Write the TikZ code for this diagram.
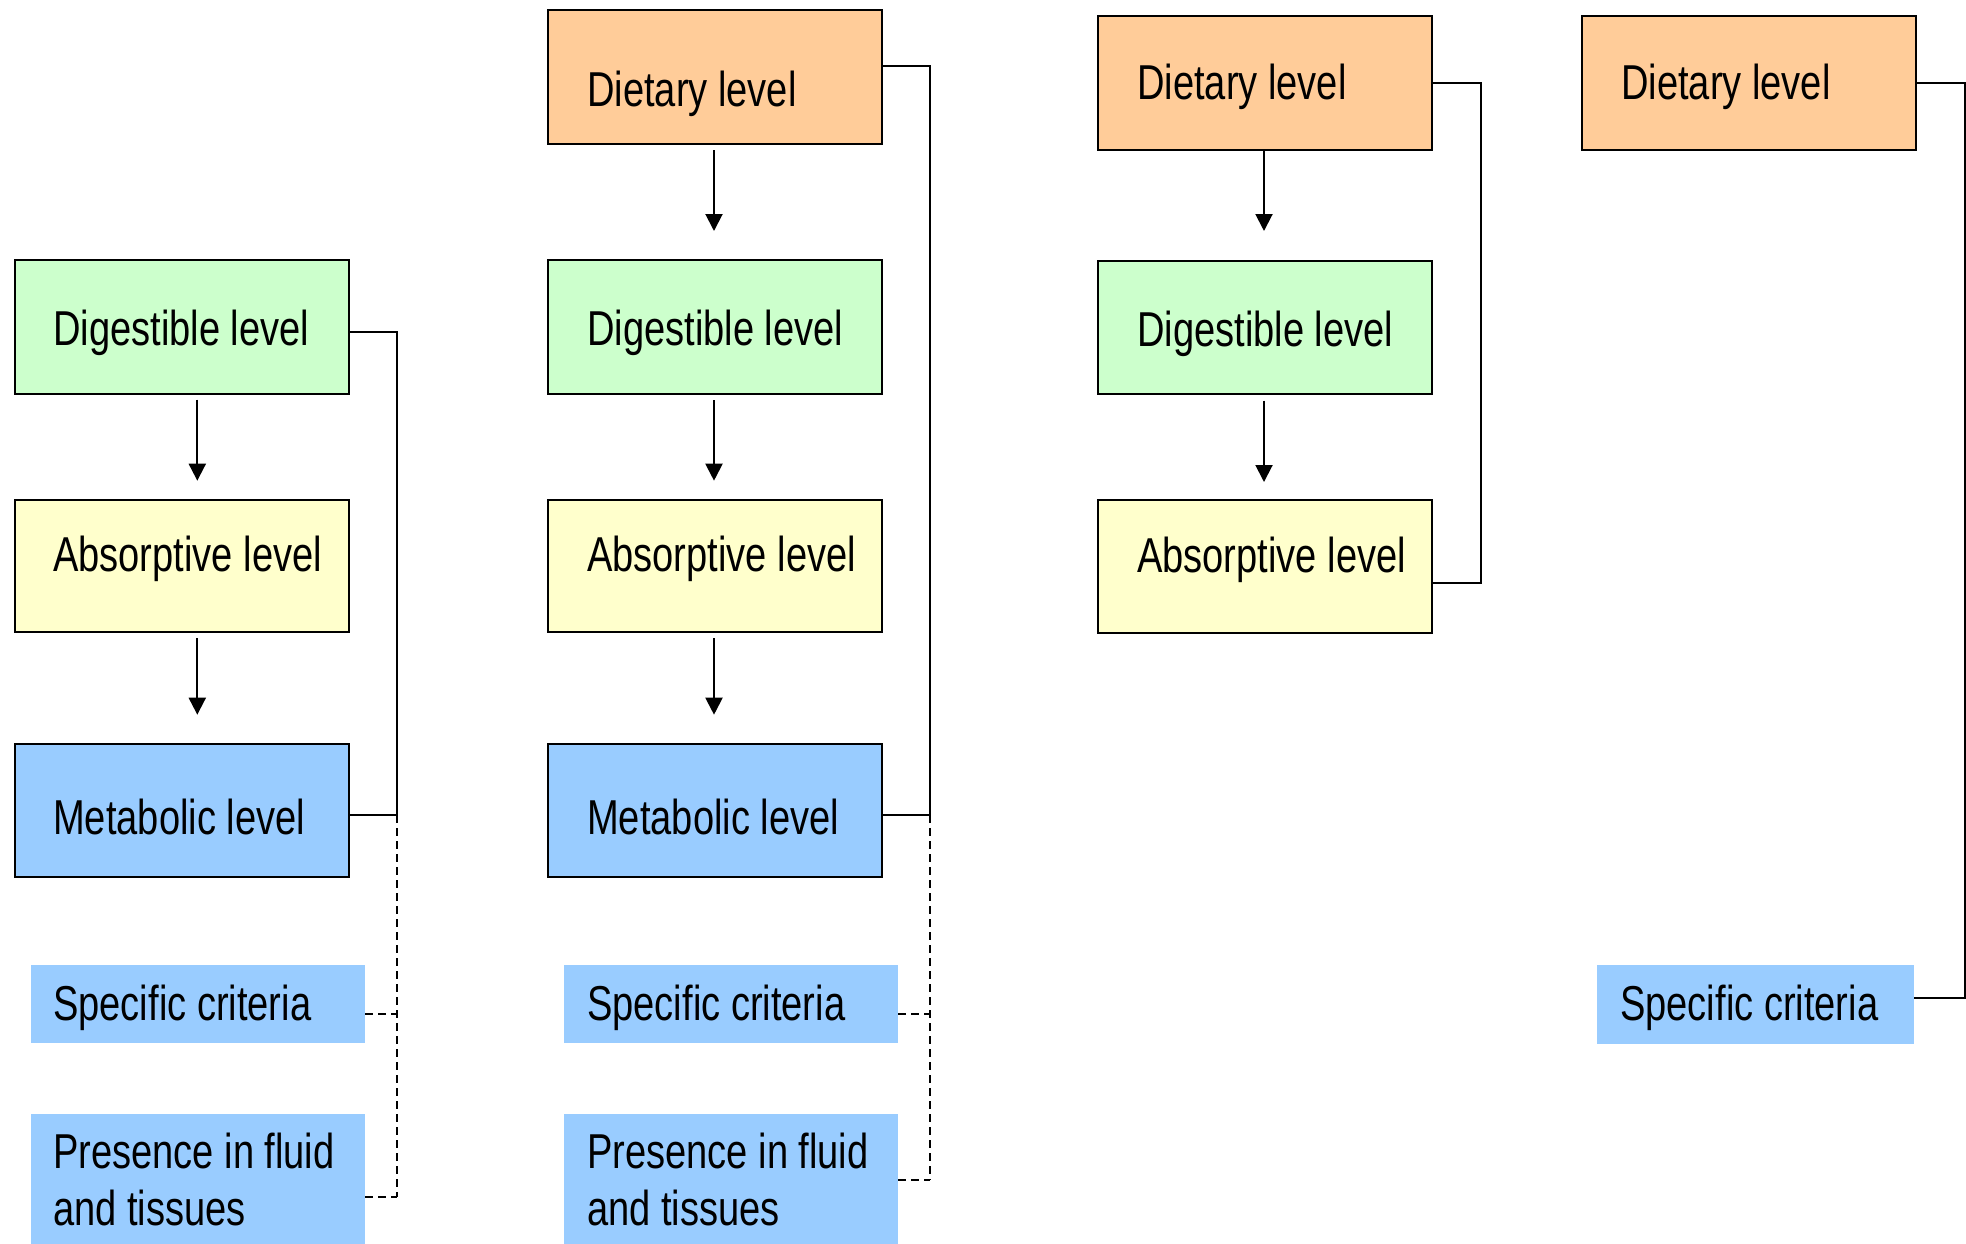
\documentclass[tikz,border=0pt]{standalone}
\usepackage{fontspec}
\newfontfamily\lab{Liberation Sans}[FakeStretch=0.777]
\usetikzlibrary{arrows.meta}
\definecolor{cdiet}{HTML}{FFCC99}
\definecolor{cdig}{HTML}{CCFFCC}
\definecolor{cabs}{HTML}{FFFFCC}
\definecolor{cmet}{HTML}{99CCFF}
\begin{document}
\begin{tikzpicture}[x=1pt,y=-1pt,
  box/.style={draw=black,line width=2pt,inner sep=0pt,anchor=north west},
  crit/.style={fill=cmet,inner sep=0pt,anchor=north west},
  lbl/.style={anchor=base west,inner sep=0pt,font=\lab\fontsize{49}{56.4}\selectfont,align=left},
  link/.style={line width=2pt},
  dlink/.style={line width=2pt,dash pattern=on 8pt off 5pt},
  arr/.style={line width=2pt,-{Triangle[width=17pt,length=17pt]}}]
\useasboundingbox (0,0) rectangle (1966,1244);
% ---------- column 1 ----------
\node[box,fill=cdig,minimum width=334.5pt,minimum height=134pt] (dg1) at (13.5,259) {};
\node[box,fill=cabs,minimum width=334.5pt,minimum height=132.5pt] (ab1) at (13.5,498.5) {};
\node[box,fill=cmet,minimum width=334.5pt,minimum height=133pt] (mt1) at (13.5,742.7) {};
\node[crit,minimum width=334pt,minimum height=78.7pt] (sc1) at (31,964.3) {};
\node[crit,minimum width=334pt,minimum height=131pt] (pr1) at (31,1113.3) {};
\node[lbl] (tdg1) at (53,345) {Digestible level};
\node[lbl] (tab1) at (53,571.7) {Absorptive level};
\node[lbl] (tmt1) at (53,834.3) {Metabolic level};
\node[lbl] (tsc1) at (53,1020) {Specific criteria};
\node[lbl] (tpr1) at (53,1225) {Presence in fluid\\and tissues};
% ---------- column 2 ----------
\node[box,fill=cdiet,minimum width=334.3pt,minimum height=133.4pt] (dt2) at (546.7,9.3) {};
\node[box,fill=cdig,minimum width=334.3pt,minimum height=134pt] (dg2) at (546.7,259) {};
\node[box,fill=cabs,minimum width=334.3pt,minimum height=132.5pt] (ab2) at (546.7,498.5) {};
\node[box,fill=cmet,minimum width=334.3pt,minimum height=133pt] (mt2) at (546.7,742.7) {};
\node[crit,minimum width=334pt,minimum height=78.7pt] (sc2) at (564,964.3) {};
\node[crit,minimum width=334pt,minimum height=131pt] (pr2) at (564,1113.3) {};
\node[lbl] (tdt2) at (587,106.7) {Dietary level};
\node[lbl] (tdg2) at (587,345) {Digestible level};
\node[lbl] (tab2) at (587,571.7) {Absorptive level};
\node[lbl] (tmt2) at (587,834.3) {Metabolic level};
\node[lbl] (tsc2) at (587,1020) {Specific criteria};
\node[lbl] (tpr2) at (587,1225) {Presence in fluid\\and tissues};
% ---------- column 3 ----------
\node[box,fill=cdiet,minimum width=334pt,minimum height=134pt] (dt3) at (1097,15) {};
\node[box,fill=cdig,minimum width=334pt,minimum height=133.5pt] (dg3) at (1097,259.5) {};
\node[box,fill=cabs,minimum width=334pt,minimum height=133pt] (ab3) at (1097,499) {};
\node[lbl] (tdt3) at (1137,100) {Dietary level};
\node[lbl] (tdg3) at (1137,346) {Digestible level};
\node[lbl] (tab3) at (1137,572.6) {Absorptive level};
% ---------- column 4 ----------
\node[box,fill=cdiet,minimum width=334pt,minimum height=134pt] (dt4) at (1581,15) {};
\node[crit,minimum width=317pt,minimum height=79pt] (sc4) at (1597,965) {};
\node[lbl] (tdt4) at (1621,100) {Dietary level};
\node[lbl] (tsc4) at (1620,1020) {Specific criteria};
% ---------- arrows ----------
\coordinate (ax1) at (197.3,0);
\coordinate (ax2) at (714,0);
\coordinate (ax3) at (1264,0);
\draw[arr,shorten <=4.7pt,shorten >=17.8pt] (dg1.south -| ax1) -- (ab1.north -| ax1);
\draw[arr,shorten <=5pt,shorten >=28pt] (ab1.south -| ax1) -- (mt1.north -| ax1);
\draw[arr,shorten <=5.6pt,shorten >=28pt] (dt2.south -| ax2) -- (dg2.north -| ax2);
\draw[arr,shorten <=5pt,shorten >=17.8pt] (dg2.south -| ax2) -- (ab2.north -| ax2);
\draw[arr,shorten <=5pt,shorten >=28pt] (ab2.south -| ax2) -- (mt2.north -| ax2);
\draw[arr,shorten <=0pt,shorten >=28.5pt] (dt3.south -| ax3) -- (dg3.north -| ax3);
\draw[arr,shorten <=5.7pt,shorten >=17pt] (dg3.south -| ax3) -- (ab3.north -| ax3);
% ---------- brackets ----------
\coordinate (j1a) at (397.3,331.7);
\coordinate (j1b) at (397.3,815);
\coordinate (j1c) at (397.3,1014);
\coordinate (j1d) at (397.3,1197.3);
\draw[link] (dg1.east |- j1a) -- (j1a) -- (j1b) -- (mt1.east |- j1b);
\draw[dlink] (j1b) -- (j1d);
\draw[dlink] (sc1.east |- j1c) -- (j1c);
\draw[dlink] (pr1.east |- j1d) -- (j1d);
\coordinate (j2a) at (930,65.7);
\coordinate (j2b) at (930,815);
\coordinate (j2c) at (930,1014);
\coordinate (j2d) at (930,1180);
\draw[link] (dt2.east |- j2a) -- (j2a) -- (j2b) -- (mt2.east |- j2b);
\draw[dlink] (j2b) -- (j2d);
\draw[dlink] (sc2.east |- j2c) -- (j2c);
\draw[dlink] (pr2.east |- j2d) -- (j2d);
\coordinate (j3a) at (1481,83);
\coordinate (j3b) at (1481,583);
\draw[link] (dt3.east |- j3a) -- (j3a) -- (j3b) -- (ab3.east |- j3b);
\coordinate (j4a) at (1964.5,83);
\coordinate (j4b) at (1964.5,998);
\draw[link] (dt4.east |- j4a) -- (j4a) -- (j4b) -- (sc4.east |- j4b);
\end{tikzpicture}
\end{document}
